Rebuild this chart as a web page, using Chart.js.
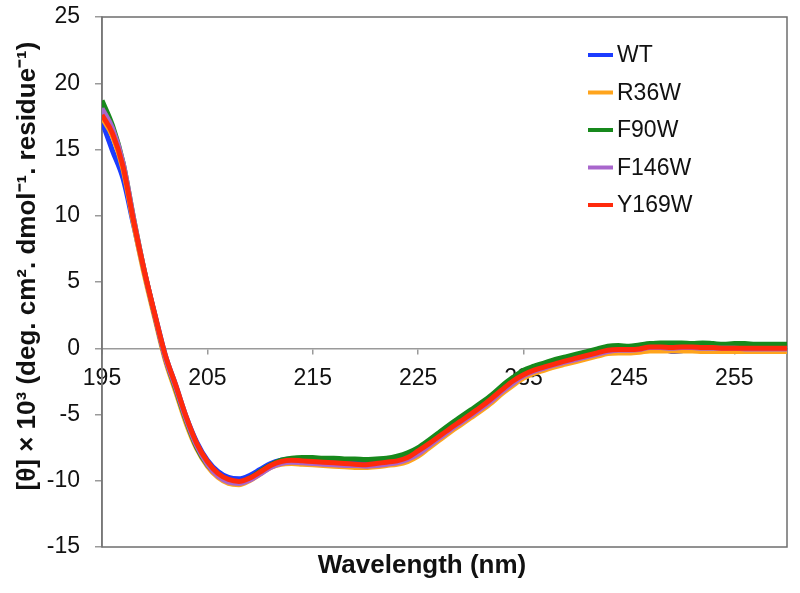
<!DOCTYPE html>
<html>
<head>
<meta charset="utf-8">
<title>CD spectra</title>
<script src="https://cdn.jsdelivr.net/npm/chart.js@4.4.1/dist/chart.umd.min.js"></script>
<style>
  html, body { margin: 0; padding: 0; background: #fff; }
  #wrap { position: relative; width: 800px; height: 593px; }
</style>
</head>
<body>
<div id="wrap"><canvas id="cdChart"></canvas></div>
<script>
// wavelength (nm), 1 nm steps
const wavelengths = [195, 196, 197, 198, 199, 200, 201, 202, 203, 204, 205, 206, 207, 208, 209,
  210, 211, 212, 213, 214, 215, 216, 217, 218, 219, 220, 221, 222, 223, 224,
  225, 226, 227, 228, 229, 230, 231, 232, 233, 234, 235, 236, 237, 238, 239,
  240, 241, 242, 243, 244, 245, 246, 247, 248, 249, 250, 251, 252, 253, 254,
  255, 256, 257, 258, 259, 260];

// [θ] x 10^3 for each variant
const wt = [17.1, 14.9, 12.8, 9.3, 5.8, 2.6, -0.5, -2.8, -5.2, -7.1, -8.45, -9.3, -9.75, -9.85, -9.6,
  -9.15, -8.7, -8.45, -8.35, -8.35, -8.4, -8.45, -8.5, -8.55, -8.55, -8.6, -8.55, -8.5, -8.4, -8.15,
  -7.75, -7.15, -6.55, -5.95, -5.4, -4.85, -4.3, -3.7, -3.0, -2.4, -1.9, -1.6, -1.35, -1.1, -0.9,
  -0.7, -0.5, -0.3, -0.1, -0.05, -0.05, 0.0, 0.1, 0.1, -0.25, -0.2, 0.1, 0.1, 0.05, 0.05,
  0.05, 0.05, 0.05, 0.05, 0.05, 0.05];
const r36w = [17.4, 16.0, 13.5, 9.4, 5.6, 2.3, -0.9, -3.3, -5.7, -7.6, -8.9, -9.75, -10.2, -10.3, -10.0,
  -9.5, -9.0, -8.75, -8.7, -8.75, -8.8, -8.85, -8.9, -8.95, -9.0, -9.0, -8.95, -8.85, -8.75, -8.55,
  -8.15, -7.55, -6.95, -6.35, -5.8, -5.25, -4.7, -4.1, -3.4, -2.8, -2.25, -1.9, -1.65, -1.4, -1.2,
  -1.0, -0.8, -0.6, -0.4, -0.35, -0.35, -0.3, -0.2, -0.2, -0.2, -0.2, -0.2, -0.25, -0.25, -0.25,
  -0.25, -0.25, -0.25, -0.25, -0.25, -0.25];
const f90w = [18.7, 16.8, 14.0, 9.8, 5.9, 2.5, -0.7, -3.1, -5.5, -7.5, -8.8, -9.6, -10.0, -10.1, -9.8,
  -9.3, -8.8, -8.45, -8.3, -8.25, -8.25, -8.3, -8.3, -8.35, -8.35, -8.4, -8.35, -8.3, -8.15, -7.9,
  -7.5, -6.95, -6.35, -5.75, -5.2, -4.65, -4.1, -3.5, -2.8, -2.2, -1.65, -1.35, -1.1, -0.85, -0.65,
  -0.45, -0.25, -0.05, 0.15, 0.2, 0.15, 0.25, 0.35, 0.4, 0.4, 0.4, 0.35, 0.4, 0.35, 0.3,
  0.35, 0.35, 0.3, 0.3, 0.3, 0.3];
const f146w = [18.1, 16.6, 14.0, 9.8, 5.9, 2.5, -0.7, -3.0, -5.4, -7.4, -8.75, -9.65, -10.1, -10.2, -9.95,
  -9.5, -9.0, -8.7, -8.6, -8.65, -8.7, -8.75, -8.8, -8.85, -8.85, -8.9, -8.85, -8.75, -8.65, -8.4,
  -8.0, -7.4, -6.8, -6.2, -5.65, -5.1, -4.55, -3.95, -3.25, -2.65, -2.1, -1.75, -1.5, -1.25, -1.05,
  -0.85, -0.65, -0.45, -0.25, -0.15, -0.15, -0.1, 0.05, 0.05, 0.0, 0.05, 0.05, 0.0, 0.0, 0.0,
  0.0, -0.05, -0.05, -0.05, -0.05, -0.05];
const y169w = [17.6, 16.2, 13.7, 9.6, 5.9, 2.6, -0.5, -2.8, -5.2, -7.2, -8.55, -9.45, -9.9, -10.05, -9.8,
  -9.35, -8.85, -8.55, -8.45, -8.5, -8.55, -8.6, -8.65, -8.7, -8.75, -8.8, -8.7, -8.6, -8.5, -8.25,
  -7.75, -7.22, -6.64, -6.07, -5.52, -4.97, -4.4, -3.77, -3.1, -2.47, -2.0, -1.65, -1.41, -1.18, -0.95,
  -0.75, -0.55, -0.35, -0.15, -0.1, -0.1, -0.05, 0.1, 0.1, 0.05, 0.1, 0.1, 0.05, 0.05, 0.0,
  0.0, 0.0, 0.0, 0.0, 0.0, 0.0];

const seriesNames = ['WT', 'R36W', 'F90W', 'F146W', 'Y169W'];
const seriesValues = [wt, r36w, f90w, f146w, y169w];
const seriesColors = ['#1c3cff', '#ffa41c', '#17891c', '#a866cc', '#ff2a0c'];

const xTickValues = [195, 205, 215, 225, 235, 245, 255];
const xMin = 195, xMax = 260;
const yMin = -15, yMax = 25, yStep = 5;

const FONT = '"Liberation Sans", Arial, sans-serif';

// plot frame (box round the plot area)
const framePlugin = {
    id: 'frame',
    beforeDatasetsDraw(chart) {
        const a = chart.chartArea;
        const ctx = chart.ctx;
        ctx.save();
        ctx.strokeStyle = '#6e6e6e';
        ctx.lineWidth = 1.5;
        ctx.strokeRect(a.left, a.top, a.right - a.left, a.bottom - a.top);
        ctx.restore();
    }
};

// legend inside the plot, top right
const insideLegend = {
    id: 'insideLegend',
    afterDatasetsDraw(chart) {
        const ctx = chart.ctx;
        ctx.save();
        ctx.font = '23px ' + FONT;
        ctx.textBaseline = 'middle';
        ctx.textAlign = 'left';
        chart.data.datasets.forEach(function (ds, i) {
            const y = 55 + i * 37.5;
            ctx.strokeStyle = ds.borderColor;
            ctx.lineWidth = 4;
            ctx.beginPath();
            ctx.moveTo(588, y);
            ctx.lineTo(613, y);
            ctx.stroke();
            ctx.fillStyle = '#111';
            ctx.fillText(ds.label, 617, y + 1);
        });
        ctx.restore();
    }
};

// axis titles
const axisTitles = {
    id: 'axisTitles',
    afterDraw(chart) {
        const ctx = chart.ctx;
        ctx.save();
        ctx.fillStyle = '#111';
        ctx.font = 'bold 26px ' + FONT;
        ctx.textAlign = 'center';
        ctx.textBaseline = 'middle';
        ctx.fillText('Wavelength (nm)', 422, 566);
        ctx.translate(28, 266);
        ctx.rotate(-Math.PI / 2);
        ctx.fillText('[θ] × 10³ (deg. cm². dmol⁻¹. residue⁻¹)', 0, 0);
        ctx.restore();
    }
};

const datasets = seriesNames.map(function (name, i) {
    return {
        label: name,
        data: wavelengths.map(function (w, j) { return { x: w, y: seriesValues[i][j] }; }),
        borderColor: seriesColors[i],
        backgroundColor: seriesColors[i],
        borderWidth: 5,
        pointRadius: 0,
        cubicInterpolationMode: 'monotone',
        order: seriesNames.length - i
    };
});

// keep the labels from pushing the plot area in
function noScalePadding(scale) {
    scale.paddingTop = 0;
    scale.paddingBottom = 0;
    scale.paddingLeft = 0;
    scale.paddingRight = 0;
}

new Chart(document.getElementById('cdChart').getContext('2d'), {
    type: 'line',
    data: { datasets: datasets },
    options: {
        responsive: true,
        maintainAspectRatio: false,
        animation: false,
        layout: { padding: { left: 0, top: 17, right: 13, bottom: 46 } },
        plugins: {
            legend: { display: false },
            title: { display: false },
            tooltip: { enabled: false }
        },
        scales: {
            x: {
                type: 'linear',
                position: { y: 0 },
                min: xMin,
                max: xMax,
                afterFit: noScalePadding,
                afterBuildTicks: function (scale) {
                    scale.ticks = xTickValues.map(function (v) { return { value: v }; });
                },
                grid: { drawOnChartArea: false, drawTicks: true, tickLength: 5, color: '#9a9a9a', lineWidth: 1.5 },
                border: { display: true, color: '#9a9a9a', width: 1.5 },
                ticks: {
                    font: { family: FONT, size: 23 },
                    color: '#111',
                    padding: 12,
                    maxRotation: 0,
                    autoSkip: false
                }
            },
            y: {
                type: 'linear',
                position: 'left',
                min: yMin,
                max: yMax,
                afterFit: function (scale) {
                    noScalePadding(scale);
                    scale.width = 102;
                },
                grid: { drawOnChartArea: false, drawTicks: true, tickLength: 7, color: '#9a9a9a', lineWidth: 1.5 },
                border: { display: true, color: '#9a9a9a', width: 1.5 },
                ticks: {
                    stepSize: yStep,
                    font: { family: FONT, size: 23 },
                    color: '#111',
                    padding: 15
                }
            }
        }
    },
    plugins: [framePlugin, insideLegend, axisTitles]
});
</script>
</body>
</html>
